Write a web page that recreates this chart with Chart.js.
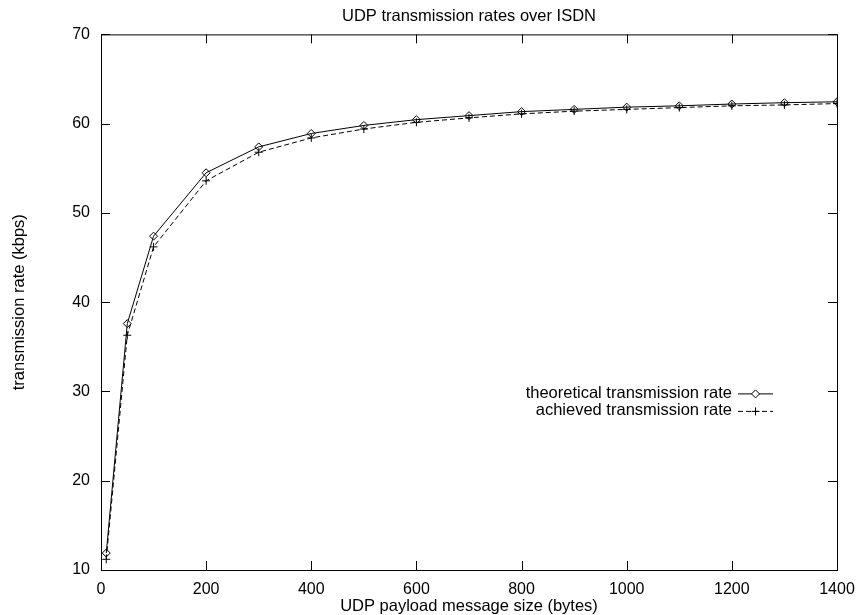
<!DOCTYPE html>
<html>
<head>
<meta charset="utf-8">
<script src="https://cdn.jsdelivr.net/npm/chart.js@4"></script>
<style>
  html, body { margin: 0; padding: 0; background: #fff; }
  #wrap { width: 858px; height: 615px; }
</style>
</head>
<body>
<div id="wrap"><canvas id="c" width="858" height="615"></canvas></div>
<script>
// message sizes (bytes) and rates (kbps)
const sizes = [10, 50, 100, 200, 300, 400, 500, 600, 700, 800, 900, 1000, 1100, 1200, 1300, 1400];
const theoretical = [11.9, 37.6, 47.4, 54.5, 57.4, 58.9, 59.8, 60.45, 60.9, 61.35, 61.6, 61.85, 62.0, 62.2, 62.35, 62.45];
const achieved = [11.2, 36.3, 46.2, 53.6, 56.8, 58.4, 59.4, 60.15, 60.65, 61.1, 61.4, 61.6, 61.8, 62.0, 62.1, 62.25];

const xTicks = [0, 200, 400, 600, 800, 1000, 1200, 1400];
const yTicks = [10, 20, 30, 40, 50, 60, 70];

const FONT = 'Liberation Sans, Arial, Helvetica, sans-serif';

const legendItems = [
  { label: 'theoretical transmission rate', dash: [], point: 'rectRot' },
  { label: 'achieved transmission rate', dash: [5, 3], point: 'cross' },
];

// gnuplot-like frame with inward ticks on all four sides + legend
const framePlugin = {
  id: 'frame',
  afterDraw(chart) {
    const { ctx, chartArea: a, scales } = chart;
    const tl = 9;
    ctx.save();
    ctx.strokeStyle = '#000';
    ctx.lineWidth = 1;
    ctx.strokeRect(a.left + 0.5, a.top + 0.5, a.right - a.left, a.bottom - a.top);
    ctx.beginPath();
    xTicks.forEach((v) => {
      const px = Math.round(scales.x.getPixelForValue(v)) + 0.5;
      ctx.moveTo(px, a.bottom); ctx.lineTo(px, a.bottom - tl);
      ctx.moveTo(px, a.top); ctx.lineTo(px, a.top + tl);
    });
    yTicks.forEach((v) => {
      const py = Math.round(scales.y.getPixelForValue(v)) + 0.5;
      ctx.moveTo(a.left, py); ctx.lineTo(a.left + tl, py);
      ctx.moveTo(a.right, py); ctx.lineTo(a.right - tl, py);
    });
    ctx.stroke();

    // legend, bottom-right area like gnuplot's key
    ctx.font = '16.5px ' + FONT;
    ctx.textAlign = 'right';
    ctx.textBaseline = 'middle';
    const textRight = a.right - 105;
    const lineL = a.right - 99;
    const lineR = a.right - 64;
    let y = a.top + 359;
    legendItems.forEach((it) => {
      ctx.fillStyle = '#000';
      ctx.fillText(it.label, textRight, y);
      ctx.beginPath();
      ctx.setLineDash(it.dash);
      ctx.moveTo(lineL, y + 0.5); ctx.lineTo(lineR, y + 0.5);
      ctx.stroke();
      ctx.setLineDash([]);
      ctx.fillStyle = '#fff';
      Chart.helpers.drawPoint(ctx, { pointStyle: it.point, radius: 4, borderWidth: 1 }, (lineL + lineR) / 2, y + 0.5);
      y += 17.5;
    });
    ctx.restore();
  },
};

new Chart(document.getElementById('c'), {
  type: 'line',
  data: {
    datasets: [
      {
        label: 'theoretical transmission rate',
        data: sizes.map((s, i) => ({ x: s, y: theoretical[i] })),
        borderColor: '#000',
        backgroundColor: '#fff',
        borderWidth: 1,
        pointStyle: 'rectRot',
        pointRadius: 4,
        pointBorderWidth: 1,
        pointBorderColor: '#000',
        pointBackgroundColor: 'rgba(0,0,0,0)',
        tension: 0,
      },
      {
        label: 'achieved transmission rate',
        data: sizes.map((s, i) => ({ x: s, y: achieved[i] })),
        borderColor: '#000',
        borderWidth: 1,
        borderDash: [5, 3],
        pointStyle: 'cross',
        pointRadius: 4,
        pointBorderWidth: 1,
        pointBorderColor: '#000',
        tension: 0,
      },
    ],
  },
  options: {
    responsive: false,
    animation: false,
    events: [],
    layout: { padding: { left: 0, right: 21, top: 0, bottom: 0 } },
    scales: {
      x: {
        type: 'linear',
        min: 0,
        max: 1400,
        afterBuildTicks: (s) => { s.ticks = xTicks.map((v) => ({ value: v })); },
        afterFit: (s) => { s.height = 45; s.paddingLeft = 0; s.paddingRight = 0; },
        grid: { display: false, drawTicks: false },
        border: { display: false },
        ticks: { color: '#000', padding: 10, font: { family: FONT, size: 16 }, callback: (v) => String(v) },
        title: {
          display: true,
          text: 'UDP payload message size (bytes)',
          color: '#000',
          font: { family: FONT, size: 16.5, lineHeight: 1 },
          padding: { top: 0, bottom: 0 },
        },
      },
      y: {
        type: 'linear',
        min: 10,
        max: 70,
        afterBuildTicks: (s) => { s.ticks = yTicks.map((v) => ({ value: v })); },
        afterFit: (s) => { s.width = 101; s.paddingTop = 0; s.paddingBottom = 0; },
        grid: { display: false, drawTicks: false },
        border: { display: false },
        ticks: { color: '#000', padding: 11, font: { family: FONT, size: 16 }, callback: (v) => String(v) },
        title: {
          display: true,
          text: 'transmission rate (kbps)',
          color: '#000',
          font: { family: FONT, size: 16.5 },
          padding: { top: 10, bottom: 0 },
        },
      },
    },
    plugins: {
      legend: { display: false },
      tooltip: { enabled: false },
      title: {
        display: true,
        text: 'UDP transmission rates over ISDN',
        color: '#000',
        fullSize: false,
        font: { family: FONT, size: 16.5, weight: 'normal', lineHeight: 1.2 },
        padding: { top: 7, bottom: 7.6 },
      },
    },
  },
  plugins: [framePlugin],
});
</script>
</body>
</html>
